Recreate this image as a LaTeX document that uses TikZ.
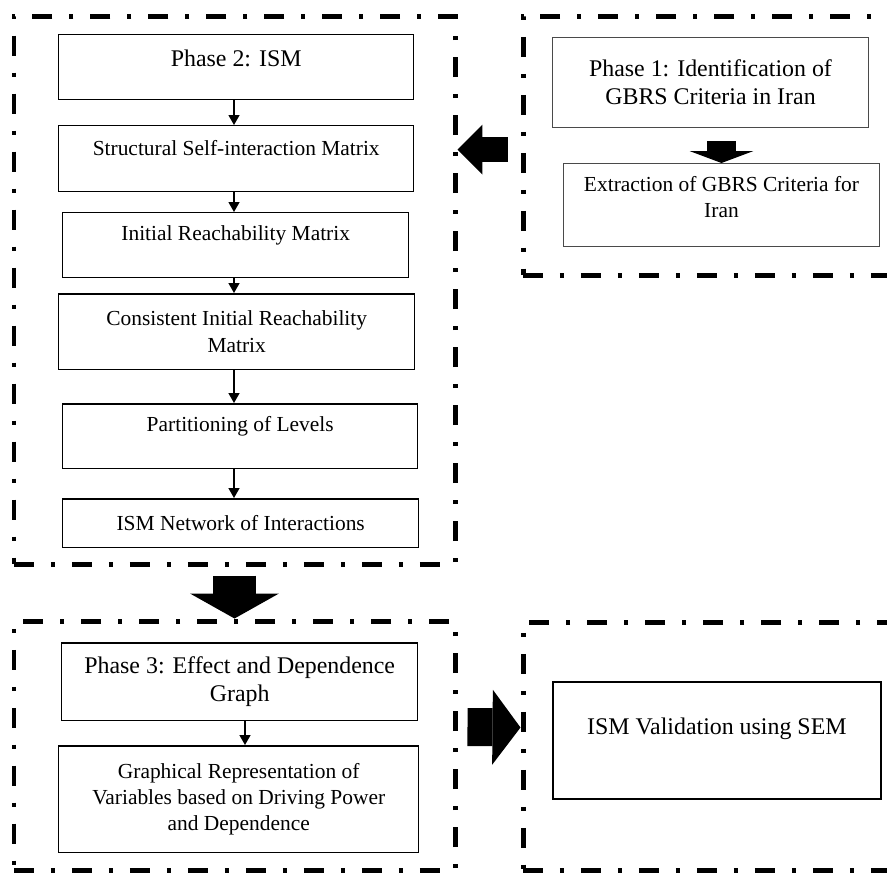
\documentclass[tikz,border=0pt]{standalone}
\usepackage{fontspec}
\setmainfont{Liberation Serif}
\usetikzlibrary{arrows.meta,fit,calc}
\definecolor{rim}{HTML}{4A4A4A}
\newcommand\bigtext{\fontsize{13.6}{16}\selectfont}
\newcommand\smalltext{\fontsize{12.2}{15}\selectfont}

\begin{document}
\begin{tikzpicture}[x=0.02cm,y=-0.02cm,
  frame/.style={draw,line width=0.1cm,dash pattern=on 0.4cm off 0.34cm on 0.08cm off 0.34cm,inner sep=0pt},
  box/.style={draw,line width=0.85pt,anchor=north west,align=center,inner sep=0pt,font=\smalltext},
  head/.style={box,font=\bigtext},
  lift/.style={text depth=#1},
  arr/.style={line width=0.75pt,-{Triangle[width=0.22cm,length=0.2cm]}},
  blk/.style n args={3}{line width=#1,-{Triangle[width=#2,length=#3,line width=0pt]}}]
  \useasboundingbox (0,0) rectangle (887,873);
  \clip (0,0) rectangle (887,873);

  % dashed phase frames
  \node[frame,fit={(14,16) (455,564)}] (ph2) {};
  \node[frame,fit={(523,16) (905,275)}] (ph1) {};
  \node[frame,fit={(14,621) (455,870)}] (ph3) {};
  \node[frame,fit={(523,622) (905,870)}] (ph4) {};

  % phase 2
  \node[head,minimum width=7.1cm,minimum height=1.3cm,lift=0.365cm] (p2) at (58,34) {Phase 2: ISM};
  \node[box,minimum width=7.1cm,minimum height=1.32cm,lift=0.415cm] (ssim) at (58,125) {Structural Self-interaction Matrix};
  \node[box,minimum width=6.92cm,minimum height=1.3cm,lift=0.475cm] (irm) at (62,212) {Initial Reachability Matrix};
  \node[box,minimum width=7.12cm,minimum height=1.52cm] (cirm) at (58,293) {Consistent Initial Reachability\\Matrix};
  \node[box,minimum width=7.1cm,minimum height=1.3cm,lift=0.495cm] (pol) at (62,403) {Partitioning of Levels};
  \node[box,minimum width=7.12cm,minimum height=0.98cm] (isn) at (62,498) {ISM Network of Interactions};
  \coordinate (axis) at (234,0);
  \foreach \a/\b in {p2/ssim,ssim/irm,irm/cirm,cirm/pol,pol/isn}
    \draw[arr] (\a.south -| axis) -- (\b.north -| axis);

  % phase 1
  \node[head,draw=rim,line width=0.6pt,minimum width=6.32cm,minimum height=1.8cm] (p1) at (552,37) {Phase 1: Identification of\\GBRS Criteria in Iran};
  \node[box,draw=rim,line width=0.6pt,minimum width=6.32cm,minimum height=1.66cm,lift=0.335cm] (ext) at (563,163) {Extraction of GBRS Criteria for\\Iran};
  \draw[blk={0.6cm}{1.28cm}{0.24cm}] ($(p1.south -| ext.north)+(0,13)$) -- (ext.north);

  % phase 3
  \node[head,minimum width=7.12cm,minimum height=1.56cm] (p3) at (61,642) {Phase 3: Effect and Dependence\\Graph};
  \node[box,minimum width=7.2cm,minimum height=2.14cm] (grv) at (58,745) {Graphical Representation of\\Variables based on Driving Power\\and Dependence};
  \coordinate (axis3) at (245,0);
  \draw[arr] (p3.south -| axis3) -- (grv.north -| axis3);

  % validation
  \node[head,line width=1pt,minimum width=6.56cm,minimum height=2.34cm,lift=0.585cm] (val) at (552,681) {ISM Validation using SEM};

  % block arrows between phases
  \draw[blk={0.5cm}{1cm}{0.5cm}] ($(ph1.west)+(-13,4)$) -- ($(ph2.east |- ph1.west)+(0,4)$);
  \draw[blk={0.86cm}{1.78cm}{0.5cm}] ($(ph2.south)+(0,9)$) -- (ph3.north);
  \draw[blk={0.76cm}{1.5cm}{0.56cm}] ($(ph3.east)+(10,-18.5)$) -- ($(ph4.west)+(0,-18.5)$);
\end{tikzpicture}
\end{document}
